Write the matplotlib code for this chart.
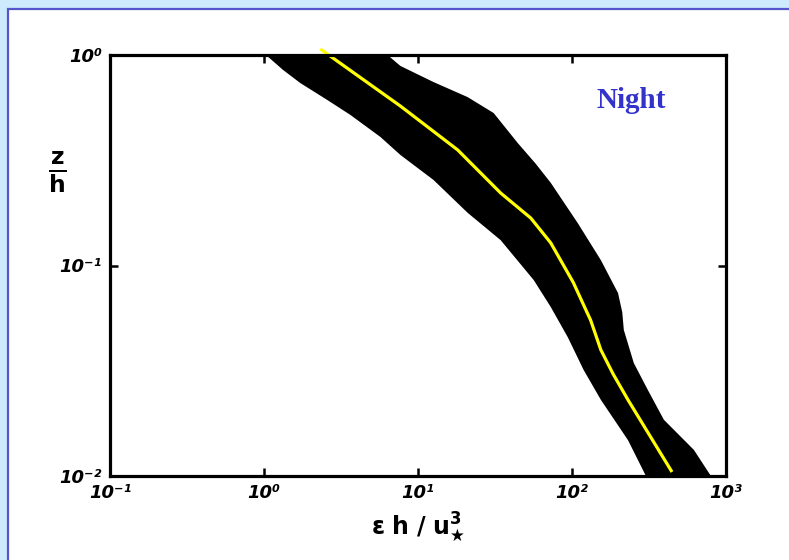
import matplotlib
matplotlib.use("Agg")
import matplotlib.pyplot as plt
from matplotlib.patches import Rectangle

# scatter envelope of the night-time data (x = eps h / u*^3, y = z/h)
lower_x = [1.03, 1.33, 1.72, 2.58, 3.64, 5.70, 7.69, 12.6, 21.0, 34.4, 56.4,
           72.8, 93.8, 119, 154, 231, 302]
lower_y = [1.0, 0.849, 0.736, 0.611, 0.519, 0.408, 0.335, 0.255, 0.178, 0.132,
           0.0853, 0.0635, 0.0457, 0.0319, 0.0230, 0.0148, 0.01]
upper_x = [6.34, 7.69, 12.6, 21.0, 31.0, 44.4, 58.0, 72.8, 109, 154, 199, 212,
           217, 252, 311, 395, 619, 798]
upper_y = [1.0, 0.887, 0.744, 0.631, 0.530, 0.382, 0.305, 0.247, 0.159, 0.106,
           0.074, 0.060, 0.0494, 0.0344, 0.0256, 0.0185, 0.0133, 0.01]

# fitted curve (yellow)
fit_x = [2.32, 7.69, 18.1, 34.4, 54.0, 72.8, 102, 125, 132, 154, 185, 231, 446]
fit_y = [1.068, 0.572, 0.354, 0.221, 0.168, 0.128, 0.083, 0.060, 0.0551, 0.0397,
         0.0305, 0.0230, 0.01045]

xticks = [0.1, 1, 10, 100, 1000]
xlabels = ["10\u207b\u00b9", "10\u2070", "10\u00b9", "10\u00b2", "10\u00b3"]
yticks = [0.01, 0.1, 1]
ylabels = ["10\u207b\u00b2", "10\u207b\u00b9", "10\u2070"]

fig = plt.figure(figsize=(7.89, 5.60), dpi=100)
fig.patch.set_facecolor("#cdebfd")
# white panel with blue border (left/top visible)
fig.add_artist(Rectangle((7.5 / 789, -0.2), 1.3, 1.2 - 8.5 / 560,
                         transform=fig.transFigure, facecolor="white",
                         edgecolor="#5555cc", linewidth=1.6, zorder=0))

ax = fig.add_axes([110 / 789, 1 - 476 / 560, 616 / 789, 421 / 560])
ax.set_xscale("log")
ax.set_yscale("log")
ax.set_xlim(0.1, 1000)
ax.set_ylim(0.01, 1)

band_x = lower_x + upper_x[::-1]
band_y = lower_y + upper_y[::-1]
ax.fill(band_x, band_y, color="black", linewidth=0, zorder=1)
ax.plot(fit_x, fit_y, color="#ffff00", linewidth=2.3, clip_on=False,
        solid_capstyle="butt", zorder=3)

for s in ax.spines.values():
    s.set_linewidth(2.3)
    s.set_zorder(4)

ax.minorticks_off()
ax.set_xticks(xticks)
ax.set_xticklabels(xlabels)
ax.set_yticks(yticks)
ax.set_yticklabels(ylabels)
ax.tick_params(which="major", direction="in", length=6, width=1.8,
               top=True, right=True, labelsize=13, pad=6)
for lab in ax.get_xticklabels() + ax.get_yticklabels():
    lab.set_fontstyle("italic")
    lab.set_fontweight("bold")

ax.set_xlabel(r"$\mathbf{\varepsilon\ h\ /\ u}_{\bigstar}^{\mathbf{3}}$",
              fontsize=17, labelpad=6)
ax.set_ylabel(r"$\frac{\mathbf{z}}{\mathbf{h}}$", fontsize=24, rotation=0,
              labelpad=0)
ax.yaxis.set_label_coords(-0.085, 0.668)

ax.text(0.846, 0.893, "Night", transform=ax.transAxes, ha="center",
        va="center", fontsize=21, fontweight="bold", color="#3333cc",
        family="Liberation Serif")

fig.savefig("out.png", dpi=100, facecolor=fig.get_facecolor())
